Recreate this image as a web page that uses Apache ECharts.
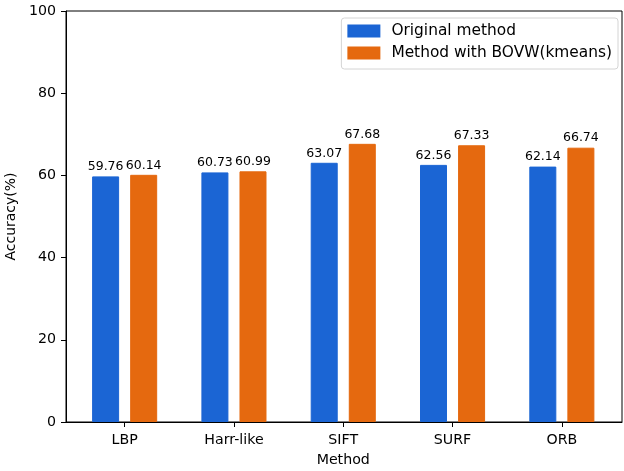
<!DOCTYPE html>
<html>
<head>
<meta charset="utf-8">
<script src="https://cdn.jsdelivr.net/npm/echarts@6/dist/echarts.min.js"></script>
<style>
  html, body { margin: 0; padding: 0; background: #fff; }
  #chart { width: 624px; height: 471px; }
</style>
</head>
<body>
<div id="chart"></div>
<script>
// data
const categories = ['LBP', 'Harr-like', 'SIFT', 'SURF', 'ORB'];
const originalVals = [59.76, 60.73, 63.07, 62.56, 62.14];
const bovwVals = [60.14, 60.99, 67.68, 67.33, 66.74];
const yTicks = [0, 20, 40, 60, 80, 100];

const font = 'DejaVu Sans';
const blue = '#1b65d4';
const orange = '#e5690f';

const chart = echarts.init(document.getElementById('chart'));

function barSeries(name, data, color) {
  return {
    name: name,
    type: 'bar',
    xAxisIndex: 1,
    yAxisIndex: 1,
    data: data,
    barWidth: 27,
    barGap: '41%',
    itemStyle: { color: color, borderColor: color, borderWidth: 1 },
    label: {
      show: true,
      position: 'top',
      distance: 3,
      color: '#000',
      fontFamily: font,
      fontSize: 12.5,
      formatter: p => p.value.toFixed(2)
    },
    emphasis: { disabled: true }
  };
}

const yMin = yTicks[0];
const yMax = yTicks[yTicks.length - 1];

const option = {
  animation: false,
  textStyle: { fontFamily: font },
  grid: [
    // frame + y axis
    { left: 66, right: 2, top: 11, bottom: 49, outerBoundsMode: 'none',
      show: true, borderColor: '#000', borderWidth: 1 },
    // bars sit a little inside the frame, like matplotlib's x margins
    { left: 70, right: 7.5, top: 11, bottom: 49, outerBoundsMode: 'none' }
  ],
  legend: {
    orient: 'vertical',
    right: 6,
    top: 18,
    padding: [5, 6, 8, 6],
    icon: 'rect',
    itemWidth: 31,
    itemHeight: 11,
    itemGap: 6,
    borderColor: '#d4d4d4',
    borderWidth: 1,
    borderRadius: 3,
    textStyle: { fontFamily: font, fontSize: 15.4, lineHeight: 16, color: '#000', padding: [0, 0, 0, 7] },
    data: ['Original method', 'Method with BOVW(kmeans)']
  },
  xAxis: [
    {
      gridIndex: 0,
      type: 'value',
      min: 0, max: 1,
      axisLine: { show: true, lineStyle: { color: '#000', width: 1 } },
      axisTick: { show: false },
      axisLabel: { show: false },
      splitLine: { show: false }
    },
    {
      gridIndex: 1,
      type: 'category',
      data: categories,
      name: 'Method',
      nameLocation: 'middle',
      nameGap: 31,
      nameTextStyle: { fontFamily: font, fontSize: 14.2, color: '#000' },
      axisLine: { show: false },
      axisTick: { show: true, alignWithLabel: true, length: 5, lineStyle: { color: '#000' } },
      axisLabel: { fontFamily: font, fontSize: 14.2, color: '#000', margin: 11 }
    }
  ],
  yAxis: [
    {
      gridIndex: 0,
      type: 'value',
      min: yMin,
      max: yMax,
      interval: yTicks[1] - yTicks[0],
      name: 'Accuracy(%)',
      nameLocation: 'middle',
      nameRotate: 90,
      nameGap: 45,
      nameTextStyle: { fontFamily: font, fontSize: 14, color: '#000' },
      axisLine: { show: true, lineStyle: { color: '#000', width: 1 } },
      axisTick: { show: true, length: 5, lineStyle: { color: '#000' } },
      axisLabel: { fontFamily: font, fontSize: 14.2, color: '#000', margin: 10 },
      splitLine: { show: false }
    },
    {
      gridIndex: 1,
      type: 'value',
      min: yMin,
      max: yMax,
      show: false
    }
  ],
  series: [
    barSeries('Original method', originalVals, blue),
    barSeries('Method with BOVW(kmeans)', bovwVals, orange)
  ]
};

chart.setOption(option);
</script>
</body>
</html>
